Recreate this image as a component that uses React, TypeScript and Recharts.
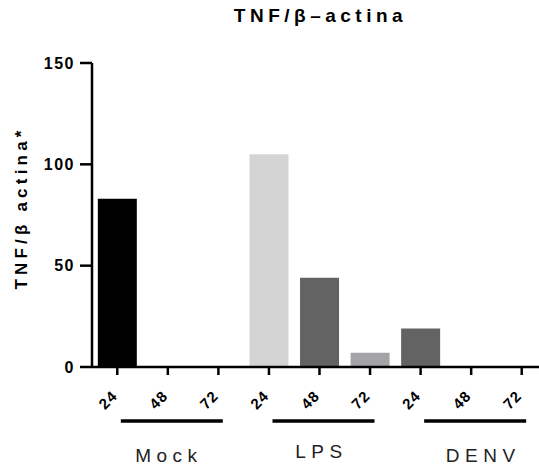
import React from "react";
import { Bar, BarChart, Cell, XAxis, YAxis } from "recharts";

const groups = ["Mock", "LPS", "DENV"];
const times = ["24", "48", "72"];
const values = [
  [83, 0, 0],
  [105, 44, 7],
  [19, 0, 0],
];
const barColors = [
  ["#000000", "#000000", "#000000"],
  ["#d4d4d4", "#636363", "#a3a3a8"],
  ["#636363", "#636363", "#636363"],
];
const yTicks = [0, 50, 100, 150];

const rows = groups.flatMap((g, gi) =>
  times.map((t, ti) => ({
    key: `${g} ${t}`,
    group: g,
    time: t,
    value: values[gi][ti],
    fill: barColors[gi][ti],
  }))
);

// small nudges for the group captions
const captionShift = [
  { dx: 1, dy: 85 },
  { dx: 2, dy: 81 },
  { dx: 12, dy: 85 },
];

const font = "'Liberation Sans', Arial, sans-serif";

function TimeTick(props: any) {
  const { x, y, index } = props;
  const row = rows[index];
  if (!row) return null;
  const gi = Math.floor(index / 3);
  const shift = captionShift[gi];
  return (
    <g>
      <text
        x={x + 1}
        y={y + 20}
        transform={`rotate(-45 ${x + 1} ${y + 20})`}
        textAnchor="end"
        fontFamily={font}
        fontWeight="bold"
        fontSize={15}
        letterSpacing={1}
        fill="#000"
      >
        {row.time}
      </text>
      {index % 3 === 1 && (
        <g>
          <line x1={x - 47} x2={x + 55} y1={y + 44} y2={y + 44} stroke="#000" strokeWidth={3.5} />
          <text
            x={x + shift.dx}
            y={y + shift.dy}
            textAnchor="middle"
            fontFamily={font}
            fontSize={19}
            letterSpacing={5.5}
            fill="#222"
          >
            {row.group}
          </text>
        </g>
      )}
    </g>
  );
}

export default function App() {
  return (
    <div
      style={{
        position: "absolute",
        left: 0,
        top: 0,
        width: 539,
        height: 467,
        overflow: "hidden",
        background: "#fff",
      }}
    >
      <div
        style={{
          position: "absolute",
          left: 0,
          width: 641,
          top: 5,
          textAlign: "center",
          fontFamily: font,
          fontWeight: "bold",
          fontSize: 19,
          letterSpacing: 4.5,
          whiteSpace: "nowrap",
        }}
      >
        TNF/β–actina
      </div>
      <BarChart
        width={560}
        height={467}
        data={rows}
        margin={{ top: 63, right: 13, bottom: 0, left: 0 }}
        barCategoryGap="11.5%"
      >
        <XAxis
          dataKey="key"
          height={100}
          interval={0}
          axisLine={{ stroke: "#000", strokeWidth: 2.5 }}
          tickLine={{ stroke: "#000", strokeWidth: 2.5 }}
          tickSize={8}
          tick={<TimeTick />}
        />
        <YAxis
          width={92}
          domain={[0, 150]}
          ticks={yTicks}
          axisLine={{ stroke: "#000", strokeWidth: 2.5 }}
          tickLine={{ stroke: "#000", strokeWidth: 2.5 }}
          tickSize={12}
          tickMargin={5}
          tick={{ fill: "#000", fontFamily: font, fontWeight: "bold", fontSize: 16, letterSpacing: 1.5 }}
          label={{
            value: "TNF/β actina*",
            angle: -90,
            position: "insideLeft",
            dx: 16,
            dy: -7,
            style: {
              fill: "#000",
              fontFamily: font,
              fontWeight: "bold",
              fontSize: 17,
              letterSpacing: 4.2,
              textAnchor: "middle",
            },
          }}
        />
        <Bar dataKey="value" isAnimationActive={false}>
          {rows.map((r) => (
            <Cell key={r.key} fill={r.fill} />
          ))}
        </Bar>
      </BarChart>
    </div>
  );
}
